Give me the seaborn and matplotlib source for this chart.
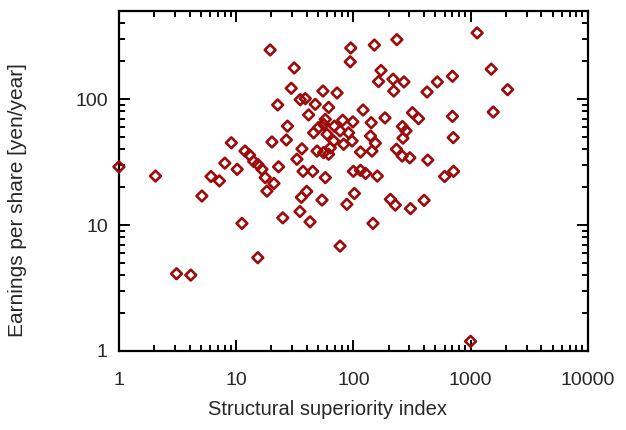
import matplotlib
matplotlib.use("Agg")
import matplotlib.pyplot as plt
import seaborn as sns
import pandas as pd
from matplotlib.ticker import LogLocator, NullFormatter

# values (log-log scatter)
superiority = [
    1.0, 2.05, 5.1, 3.1, 4.1, 11.2, 15.3, 77, 1000, 6.1,
    7.2, 8.0, 10.2, 9.1, 11.9, 13.0, 14.1, 15.3, 16.6, 17.7,
    21, 18.3, 23, 25, 20.2, 26.8, 27.4, 22.6, 19.5, 31.3,
    29.5, 35.2, 38.9, 41.5, 47.3, 55, 72.6, 61.5, 50.5, 57.6,
    55.7, 68.8, 81, 99, 121, 95, 94, 151, 235, 1137,
    1500, 2070, 1560, 700, 520, 425, 172, 164, 218, 270,
    221, 700, 319, 360, 186, 142, 262, 281, 265, 711,
    45.8, 59.6, 77, 91, 97.5, 82.6, 68, 63.6, 140, 144,
    154, 115, 49, 55.7, 61.5, 36.4, 33, 37.2, 45, 57.6,
    100, 115, 127, 160, 40, 36, 54, 102, 88, 35,
    42.7, 147, 233, 261, 303, 431, 600, 716, 207, 228,
    307, 401,
]
earnings = [
    29, 24.5, 17, 4.1, 4.0, 10.3, 5.5, 6.8, 1.19, 24.3,
    22.4, 31, 27.7, 45, 38.7, 36, 32, 30.3, 27.7, 23.8,
    21.4, 18.6, 29, 11.4, 45.7, 47.4, 61, 90, 246, 177,
    122, 99, 101, 75, 91, 116, 112, 86, 59.5, 69,
    63, 61, 68, 66, 82, 255, 198, 269, 297, 336,
    173, 119, 79, 152, 137, 114, 169, 138, 144, 137,
    116, 73, 78, 70, 71, 65, 60.6, 56, 49, 49.5,
    54, 52.6, 56, 54, 46.5, 43.8, 46.5, 41, 51, 38.7,
    44.6, 38, 38.7, 37.6, 36.5, 40.3, 33.3, 26.7, 26.7, 23.8,
    26.7, 27.2, 25.7, 24.5, 18.5, 16.6, 15.8, 17.8, 14.6, 12.8,
    10.6, 10.3, 40, 35.3, 34.2, 32.8, 24.3, 26.7, 16, 14.4,
    13.5, 15.7,
]

x_ticks = [1, 10, 100, 1000, 10000]
x_tick_labels = ["1", "10", "100", "1000", "10000"]
y_ticks = [1, 10, 100]
y_tick_labels = ["1", "10", "100"]

df = pd.DataFrame({"ssi": superiority, "eps": earnings})

sns.set_style("ticks")
plt.rcParams["font.family"] = ["Liberation Sans", "DejaVu Sans"]

RED = "#9c0a0a"

fig = plt.figure(figsize=(6.26, 4.30), dpi=100)
ax = fig.add_axes([0.190, 0.184, 0.749, 0.790])

sns.scatterplot(data=df, x="ssi", y="eps", ax=ax, marker="D", s=30,
                facecolor="none", edgecolor=RED, linewidth=1.9,
                clip_on=False, zorder=3)

ax.set_xscale("log")
ax.set_yscale("log")
ax.set_xlim(1, 10000)
ax.set_ylim(1, 500)

ax.set_xticks(x_ticks, x_tick_labels)
ax.set_yticks(y_ticks, y_tick_labels)
for axis in (ax.xaxis, ax.yaxis):
    axis.set_minor_locator(LogLocator(base=10, subs=range(2, 10), numticks=20))
    axis.set_minor_formatter(NullFormatter())

ax.tick_params(which="both", direction="in", top=True, right=True,
               width=1.4, color="black", labelsize=14)
ax.tick_params(axis="x", which="major", length=8, pad=15)
ax.tick_params(axis="y", which="major", length=8, pad=8)
ax.tick_params(which="minor", length=4)

for sp in ax.spines.values():
    sp.set_linewidth(1.6)
    sp.set_color("black")

ax.set_xlabel("Structural superiority index", fontsize=14.5)
ax.set_ylabel("Earnings per share [yen/year]", fontsize=15)
ax.xaxis.set_label_coords(0.445, -0.145)
ax.yaxis.set_label_coords(-0.196, 0.443)

fig.savefig("out.png", dpi=100)
